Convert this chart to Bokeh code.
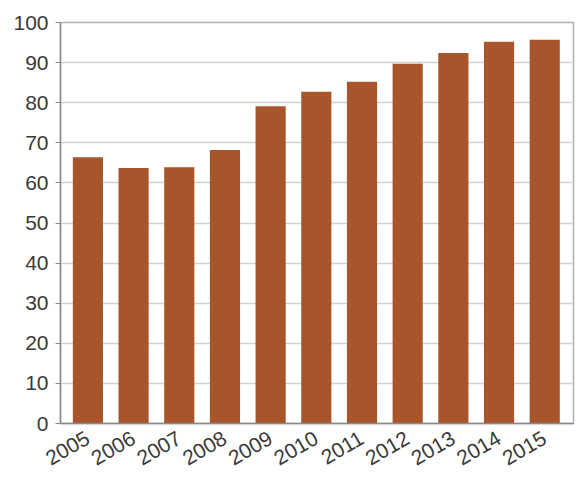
import math
from bokeh.plotting import figure
from bokeh.models import Range1d, FixedTicker, ColumnDataSource
from bokeh.embed import file_html
from bokeh.resources import INLINE

years = [2005, 2006, 2007, 2008, 2009, 2010, 2011, 2012, 2013, 2014, 2015]
values = [66.4, 63.7, 63.9, 68.2, 79.1, 82.7, 85.2, 89.7, 92.4, 95.2, 95.7]
year_labels = [str(y) for y in years]
y_ticks = [0, 10, 20, 30, 40, 50, 60, 70, 80, 90, 100]

src = ColumnDataSource(data=dict(x=years, top=values))

p = figure(width=577, height=475, output_backend="svg", toolbar_location=None,
           x_range=Range1d(2004.4, 2015.63), y_range=Range1d(0, 100),
           min_border_left=60, min_border_right=4, min_border_top=22, min_border_bottom=52)

p.vbar(x="x", top="top", width=0.66, bottom=0, source=src,
       fill_color="#A9552C", line_color=None)

font = "Liberation Sans"
p.xaxis.ticker = FixedTicker(ticks=years)
p.xaxis.major_label_overrides = {y: l for y, l in zip(years, year_labels)}
p.xaxis.major_label_orientation = math.pi / 6
p.yaxis.ticker = FixedTicker(ticks=y_ticks)

for ax in (p.xaxis, p.yaxis):
    ax.major_label_text_font = font
    ax.major_label_text_font_size = "21px"
    ax.major_label_text_color = "#3a3a3a"
    ax.axis_line_color = "#8a8a8a"
    ax.axis_line_width = 1.5
    ax.major_tick_line_color = "#8a8a8a"
    ax.major_tick_in = 0
    ax.major_tick_out = 5
    ax.minor_tick_line_color = None
    ax.major_label_standoff = 7

p.xaxis.major_tick_line_color = None
p.xaxis.major_label_standoff = 8

p.xgrid.grid_line_color = None
p.ygrid.grid_line_color = "#d2d2d2"
p.ygrid.grid_line_width = 1.5
p.outline_line_color = "#b0b0b0"
p.outline_line_width = 1.5
p.background_fill_color = "white"
p.border_fill_color = "white"

open("out.html", "w").write(file_html(p, INLINE))
